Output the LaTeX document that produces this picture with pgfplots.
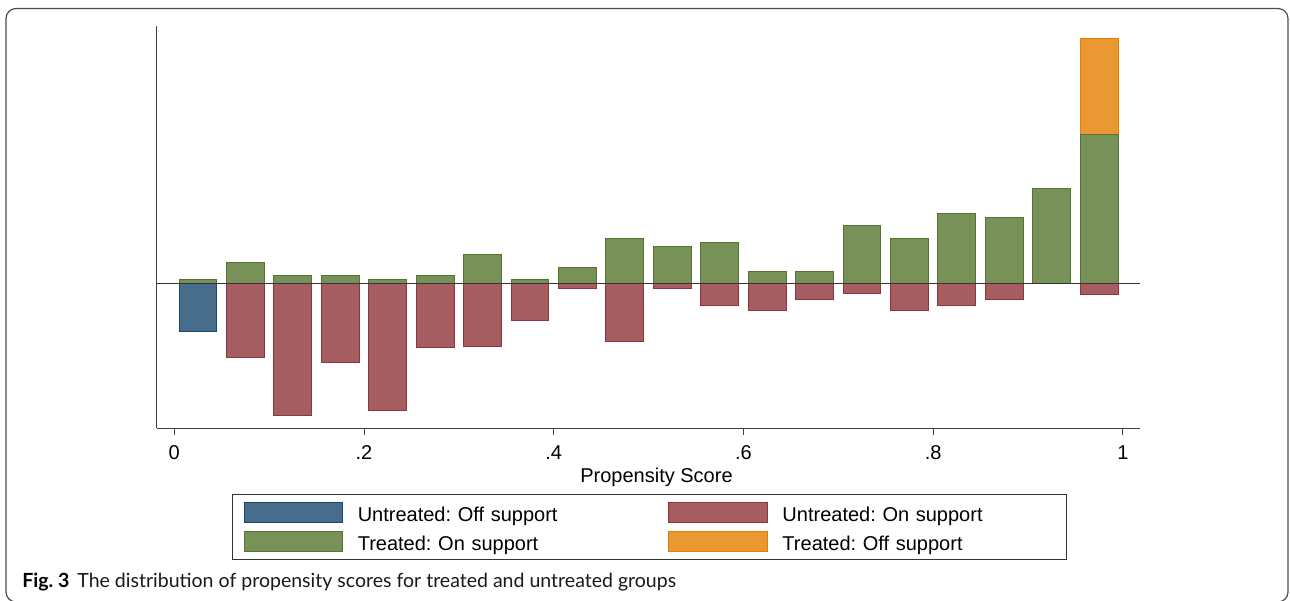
\documentclass[border=0pt]{standalone}
\usepackage{pgfplots}
\pgfplotsset{compat=1.18}
\usepackage{fontspec}
\setmainfont{Liberation Sans}
\newfontfamily\capfont{Lato}
\definecolor{navyE}{RGB}{26,71,111}
\definecolor{maroonE}{RGB}{144,53,59}
\definecolor{greenE}{RGB}{85,117,47}
\definecolor{orangeE}{RGB}{227,126,0}
\frenchspacing
\begin{document}
\begin{tikzpicture}
\useasboundingbox (0,0) rectangle (645pt,300pt);
\begin{scope}
\clip (0,0) rectangle (645pt,300pt);
\draw[black!70, line width=0.6pt, rounded corners=5pt] (3pt,-1pt) rectangle (644pt,295.75pt);
\end{scope}
\begin{axis}[
  at={(78.35pt,85.85pt)}, anchor=south west,
  scale only axis, width=491.65pt, height=201pt,
  xmin=-0.01856, xmax=1.0181, ymin=-145, ymax=258.3,
  axis x line*=bottom, axis y line*=left,
  axis line style={black!75, line width=0.5pt, -},
  xtick={0,0.2,0.4,0.6,0.8,1},
  xticklabels={0,.2,.4,.6,.8,1},
  ytick=\empty,
  tick align=outside, major tick length=3.3pt,
  tick style={black!75, line width=0.5pt},
  xticklabel style={font=\fontsize{10}{12}\selectfont, anchor=base, yshift=-12.5pt},
  xlabel={Propensity Score},
  xlabel style={font=\fontsize{10}{12}\selectfont, at={(axis description cs:0.5083,-0.13433)}, anchor=base},
  legend columns=2,
  legend image code/.code={\draw[#1] (0pt,-0.5pt) rectangle (49.35pt,9.5pt);},
  legend style={at={(axis description cs:0.07688,-0.16343)}, anchor=north west,
    draw=black!80, line width=0.5pt, inner xsep=5.5pt, inner ysep=3.6pt,
    font=\fontsize{10}{12}\selectfont, column sep=0pt, row sep=4.2pt,
    nodes={inner sep=0pt, text height=9.5pt, text depth=0.5pt, anchor=base west},
    /tikz/every odd column/.style={column sep=7.15pt},
    /tikz/every even column/.style={column sep=0pt},
    /tikz/column 2/.style={nodes={text width=155.35pt}},
    /tikz/column 4/.style={nodes={text width=136.4pt}}},
  legend cell align=left,
]
\addlegendimage{draw=navyE, fill=navyE!80!white, line width=0.5pt}
\addlegendentry{Untreated: Off support}
\addlegendimage{draw=maroonE, fill=maroonE!80!white, line width=0.5pt}
\addlegendentry{Untreated: On support}
\addlegendimage{draw=greenE, fill=greenE!80!white, line width=0.5pt}
\addlegendentry{Treated: On support}
\addlegendimage{draw=orangeE, fill=orangeE!80!white, line width=0.5pt}
\addlegendentry{Treated: Off support}
% Treated: Off support (stacked above on-support bar)
\addplot[ybar, bar width=0.04, bar shift=0pt, fill=orangeE!80!white, draw=orangeE, line width=0.5pt, forget plot]
  coordinates {(0.975,246)};
% Treated: On support
\addplot[ybar, bar width=0.04, bar shift=0pt, fill=greenE!80!white, draw=greenE, line width=0.5pt, forget plot]
  coordinates {(0.025,4) (0.075,21) (0.125,8.3) (0.175,8.3) (0.225,4) (0.275,8.3) (0.325,29) (0.375,4) (0.425,16.3) (0.475,45.7) (0.525,37.7) (0.575,41) (0.625,12) (0.675,12) (0.725,58) (0.775,45.3) (0.825,70) (0.875,66.6) (0.925,95.6) (0.975,149.6)};
% Untreated: On support
\addplot[ybar, bar width=0.04, bar shift=0pt, fill=maroonE!80!white, draw=maroonE, line width=0.5pt, forget plot]
  coordinates {(0.075,-74) (0.125,-132) (0.175,-79.4) (0.225,-127) (0.275,-63.7) (0.325,-63.4) (0.375,-36.7) (0.425,-5) (0.475,-58.3) (0.525,-5) (0.575,-21.7) (0.625,-26.7) (0.675,-16) (0.725,-10) (0.775,-26.7) (0.825,-21.7) (0.875,-16) (0.975,-10.7)};
% Untreated: Off support
\addplot[ybar, bar width=0.04, bar shift=0pt, fill=navyE!80!white, draw=navyE, line width=0.5pt, forget plot]
  coordinates {(0.025,-47.7)};
% zero line
\addplot[black!80, line width=0.5pt, forget plot] coordinates {(-0.01856,0) (1.0181,0)};
\end{axis}
\node[anchor=base west, inner sep=0pt, font=\capfont\fontsize{9.76}{11}\selectfont\bfseries] at (11pt,6.5pt) {Fig. 3};
\node[anchor=base west, inner sep=0pt, font=\capfont\fontsize{9.76}{11}\selectfont, text=black!90] at (38.5pt,6.5pt) {The distribution of propensity scores for treated and untreated groups};
\end{tikzpicture}
\end{document}
